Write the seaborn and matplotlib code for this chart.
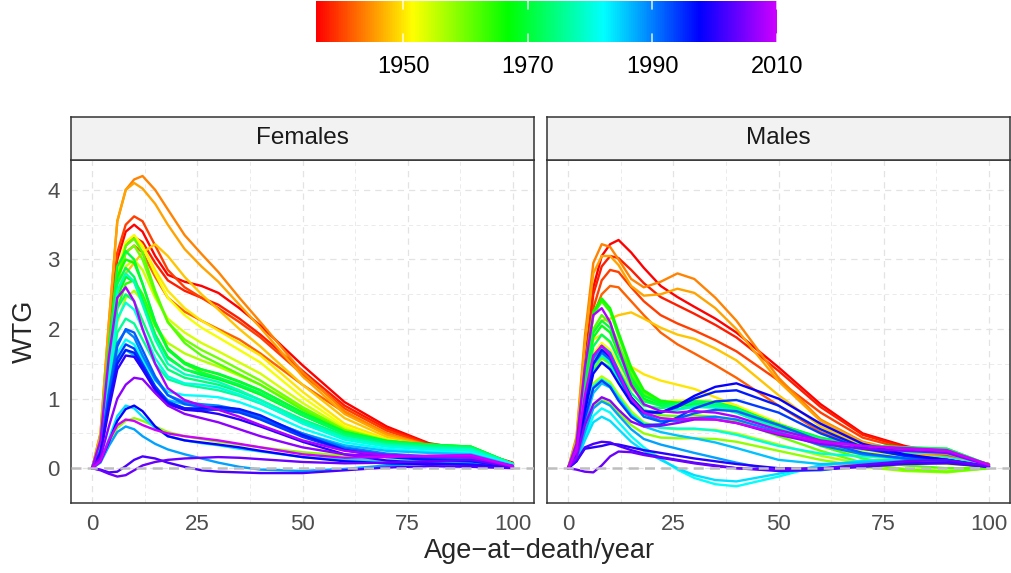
import numpy as np
import pandas as pd
import matplotlib
matplotlib.use("Agg")
import matplotlib.pyplot as plt
import seaborn as sns
from matplotlib.colors import ListedColormap, Normalize, hsv_to_rgb
from matplotlib.cm import ScalarMappable


ages = [0, 2, 4, 6, 8, 10, 12, 15, 18, 22, 26, 30, 35, 40, 50, 60, 70, 80, 90, 100]

# one curve every second year
years = list(range(1936, 2011, 2))

females = [
    [0, 0.40, 1.80, 3.00, 3.40, 3.50, 3.40, 3.05, 2.78, 2.68, 2.62, 2.52, 2.30, 2.05, 1.48, 0.95, 0.60, 0.36, 0.26, 0.08],
    [0, 0.35, 1.60, 2.80, 3.20, 3.32, 3.25, 2.95, 2.70, 2.55, 2.45, 2.35, 2.15, 1.92, 1.40, 0.90, 0.57, 0.35, 0.25, 0.07],
    [0, 0.40, 1.90, 3.10, 3.50, 3.62, 3.55, 3.20, 2.85, 2.60, 2.45, 2.30, 2.10, 1.88, 1.35, 0.86, 0.54, 0.34, 0.25, 0.07],
    [0, 0.35, 1.60, 2.70, 3.10, 3.20, 3.10, 2.75, 2.45, 2.25, 2.12, 2.00, 1.85, 1.65, 1.20, 0.80, 0.50, 0.32, 0.24, 0.06],
    [0, 0.50, 2.10, 3.55, 4.00, 4.15, 4.20, 4.00, 3.72, 3.35, 3.08, 2.82, 2.45, 2.10, 1.38, 0.82, 0.50, 0.33, 0.25, 0.06],
    [0, 0.50, 2.10, 3.55, 4.00, 4.10, 4.02, 3.80, 3.50, 3.15, 2.90, 2.68, 2.35, 2.02, 1.32, 0.78, 0.48, 0.32, 0.24, 0.06],
    [0, 0.35, 1.50, 2.50, 2.80, 2.95, 3.10, 3.22, 3.05, 2.75, 2.50, 2.28, 2.00, 1.75, 1.20, 0.72, 0.45, 0.31, 0.23, 0.05],
    [0, 0.35, 1.60, 2.80, 3.20, 3.30, 3.18, 2.85, 2.55, 2.30, 2.12, 1.98, 1.80, 1.62, 1.10, 0.64, 0.42, 0.30, 0.23, 0.05],
    [0, 0.35, 1.60, 2.85, 3.25, 3.35, 3.20, 2.80, 2.45, 2.20, 2.02, 1.88, 1.70, 1.52, 1.02, 0.60, 0.40, 0.30, 0.24, 0.05],
    [0, 0.30, 1.40, 2.50, 2.90, 3.00, 2.85, 2.45, 2.15, 1.95, 1.80, 1.68, 1.52, 1.36, 0.94, 0.57, 0.38, 0.29, 0.25, 0.05],
    [0, 0.25, 1.20, 2.10, 2.45, 2.55, 2.40, 2.05, 1.80, 1.65, 1.55, 1.46, 1.33, 1.20, 0.86, 0.54, 0.37, 0.29, 0.26, 0.05],
    [0, 0.10, 0.35, 0.58, 0.68, 0.72, 0.68, 0.60, 0.52, 0.46, 0.42, 0.38, 0.34, 0.30, 0.23, 0.18, 0.16, 0.16, 0.15, 0.03],
    [0, 0.35, 1.50, 2.65, 3.10, 3.20, 3.00, 2.50, 2.10, 1.85, 1.70, 1.58, 1.42, 1.26, 0.88, 0.55, 0.40, 0.32, 0.29, 0.06],
    [0, 0.35, 1.55, 2.70, 3.20, 3.30, 3.10, 2.55, 2.10, 1.80, 1.62, 1.50, 1.35, 1.20, 0.84, 0.53, 0.39, 0.33, 0.30, 0.06],
    [0, 0.30, 1.30, 2.30, 2.65, 2.70, 2.50, 2.05, 1.72, 1.50, 1.38, 1.30, 1.18, 1.06, 0.76, 0.50, 0.38, 0.33, 0.30, 0.06],
    [0, 0.35, 1.60, 2.75, 3.00, 2.95, 2.65, 2.10, 1.72, 1.52, 1.42, 1.35, 1.24, 1.12, 0.80, 0.52, 0.39, 0.34, 0.31, 0.06],
    [0, 0.30, 1.40, 2.45, 2.75, 2.68, 2.40, 1.92, 1.60, 1.42, 1.34, 1.28, 1.18, 1.06, 0.76, 0.50, 0.38, 0.34, 0.31, 0.06],
    [0, 0.40, 1.75, 2.90, 3.12, 3.00, 2.65, 2.10, 1.70, 1.50, 1.42, 1.36, 1.25, 1.12, 0.80, 0.52, 0.39, 0.34, 0.31, 0.06],
    [0, 0.35, 1.60, 2.65, 2.88, 2.75, 2.42, 1.92, 1.58, 1.42, 1.36, 1.30, 1.20, 1.08, 0.76, 0.50, 0.38, 0.33, 0.30, 0.06],
    [0, 0.30, 1.40, 2.30, 2.50, 2.40, 2.12, 1.70, 1.42, 1.30, 1.25, 1.20, 1.10, 0.98, 0.70, 0.47, 0.36, 0.32, 0.29, 0.06],
    [0, 0.25, 1.15, 1.95, 2.15, 2.08, 1.85, 1.50, 1.28, 1.20, 1.16, 1.12, 1.04, 0.93, 0.66, 0.44, 0.34, 0.30, 0.28, 0.06],
    [0, 0.35, 1.50, 2.55, 2.80, 2.68, 2.35, 1.85, 1.50, 1.35, 1.30, 1.24, 1.12, 0.98, 0.68, 0.44, 0.33, 0.29, 0.27, 0.06],
    [0, 0.30, 1.30, 2.15, 2.38, 2.28, 2.00, 1.58, 1.32, 1.22, 1.20, 1.16, 1.06, 0.94, 0.64, 0.41, 0.31, 0.27, 0.25, 0.05],
    [0, 0.25, 1.00, 1.65, 1.85, 1.78, 1.56, 1.26, 1.10, 1.05, 1.04, 1.02, 0.95, 0.84, 0.57, 0.37, 0.28, 0.24, 0.22, 0.05],
    [0, 0.10, 0.42, 0.75, 0.90, 0.86, 0.74, 0.58, 0.46, 0.40, 0.36, 0.33, 0.28, 0.24, 0.16, 0.12, 0.11, 0.11, 0.10, 0.02],
    [0, 0.22, 0.95, 1.55, 1.70, 1.62, 1.42, 1.15, 0.98, 0.92, 0.90, 0.88, 0.82, 0.73, 0.50, 0.33, 0.25, 0.22, 0.20, 0.04],
    [0, 0.08, 0.32, 0.52, 0.60, 0.56, 0.46, 0.35, 0.27, 0.20, 0.14, 0.08, 0.02, -0.02, -0.04, -0.01, 0.04, 0.07, 0.08, 0.02],
    [0, 0.25, 1.10, 1.80, 1.98, 1.88, 1.62, 1.28, 1.05, 0.95, 0.92, 0.90, 0.84, 0.74, 0.50, 0.30, 0.21, 0.17, 0.15, 0.03],
    [0, 0.25, 1.05, 1.75, 2.00, 1.95, 1.70, 1.32, 1.05, 0.92, 0.88, 0.87, 0.82, 0.72, 0.47, 0.28, 0.19, 0.15, 0.13, 0.03],
    [0, 0.22, 0.95, 1.58, 1.78, 1.72, 1.50, 1.18, 0.96, 0.86, 0.84, 0.84, 0.80, 0.70, 0.45, 0.26, 0.17, 0.13, 0.11, 0.02],
    [0, 0.22, 0.92, 1.50, 1.70, 1.66, 1.46, 1.14, 0.94, 0.86, 0.86, 0.88, 0.85, 0.76, 0.48, 0.26, 0.16, 0.12, 0.10, 0.02],
    [0, 0.10, 0.38, 0.68, 0.85, 0.90, 0.82, 0.60, 0.46, 0.40, 0.37, 0.34, 0.30, 0.25, 0.16, 0.10, 0.07, 0.06, 0.05, 0.01],
    [0, 0.20, 0.85, 1.42, 1.62, 1.60, 1.42, 1.12, 0.92, 0.84, 0.82, 0.78, 0.70, 0.60, 0.38, 0.20, 0.11, 0.07, 0.05, 0.01],
    [0, -0.02, -0.06, -0.05, 0.03, 0.12, 0.17, 0.14, 0.08, 0.02, -0.03, -0.05, -0.06, -0.07, -0.07, -0.03, 0.01, 0.03, 0.02, 0.0],
    [0, -0.03, -0.08, -0.12, -0.10, -0.03, 0.04, 0.09, 0.12, 0.14, 0.15, 0.16, 0.15, 0.13, 0.09, 0.07, 0.08, 0.10, 0.12, 0.02],
    [0, 0.15, 0.60, 1.00, 1.20, 1.30, 1.28, 1.08, 0.90, 0.78, 0.72, 0.66, 0.56, 0.46, 0.30, 0.20, 0.17, 0.17, 0.17, 0.03],
    [0, 0.40, 1.60, 2.45, 2.60, 2.40, 2.00, 1.50, 1.15, 0.98, 0.90, 0.84, 0.74, 0.62, 0.40, 0.25, 0.19, 0.17, 0.16, 0.03],
    [0, 0.10, 0.40, 0.62, 0.70, 0.68, 0.62, 0.55, 0.50, 0.46, 0.43, 0.40, 0.35, 0.30, 0.20, 0.15, 0.16, 0.18, 0.19, 0.03],
]

males = [
    [0, 0.35, 1.50, 2.60, 3.05, 3.22, 3.28, 3.10, 2.88, 2.62, 2.46, 2.32, 2.15, 1.95, 1.45, 0.92, 0.50, 0.32, 0.20, 0.06],
    [0, 0.35, 1.45, 2.50, 2.90, 3.05, 3.02, 2.85, 2.66, 2.46, 2.34, 2.22, 2.06, 1.88, 1.40, 0.88, 0.48, 0.30, 0.19, 0.06],
    [0, 0.30, 1.35, 2.30, 2.70, 2.85, 2.82, 2.60, 2.40, 2.20, 2.08, 1.98, 1.84, 1.68, 1.26, 0.80, 0.44, 0.28, 0.18, 0.05],
    [0, 0.30, 1.30, 2.20, 2.50, 2.62, 2.60, 2.40, 2.20, 1.95, 1.78, 1.65, 1.48, 1.30, 0.90, 0.52, 0.30, 0.20, 0.14, 0.04],
    [0, 0.45, 1.90, 2.95, 3.22, 3.18, 3.00, 2.72, 2.60, 2.68, 2.80, 2.72, 2.45, 2.12, 1.30, 0.70, 0.38, 0.24, 0.16, 0.05],
    [0, 0.42, 1.80, 2.80, 3.05, 3.05, 2.92, 2.62, 2.48, 2.50, 2.58, 2.52, 2.30, 2.00, 1.25, 0.68, 0.37, 0.23, 0.15, 0.05],
    [0, 0.30, 1.20, 1.95, 2.12, 2.15, 2.20, 2.24, 2.15, 2.02, 1.92, 1.86, 1.72, 1.55, 1.05, 0.60, 0.32, 0.20, 0.14, 0.04],
    [0, 0.30, 1.25, 1.85, 1.92, 1.80, 1.65, 1.46, 1.35, 1.26, 1.20, 1.14, 1.02, 0.90, 0.60, 0.36, 0.22, 0.16, 0.12, 0.03],
    [0, 0.25, 1.05, 1.65, 1.80, 1.70, 1.50, 1.22, 1.04, 0.96, 0.97, 0.98, 0.96, 0.90, 0.65, 0.40, 0.24, 0.16, 0.11, 0.03],
    [0, 0.25, 1.00, 1.58, 1.72, 1.62, 1.42, 1.15, 0.98, 0.90, 0.90, 0.92, 0.90, 0.85, 0.60, 0.35, 0.18, 0.10, 0.06, 0.02],
    [0, 0.20, 0.80, 1.22, 1.32, 1.24, 1.06, 0.82, 0.66, 0.58, 0.56, 0.56, 0.55, 0.50, 0.34, 0.18, 0.06, -0.01, -0.04, 0.0],
    [0, 0.15, 0.55, 0.88, 0.98, 0.93, 0.80, 0.62, 0.50, 0.44, 0.43, 0.43, 0.42, 0.38, 0.25, 0.12, 0.02, -0.04, -0.06, 0.0],
    [0, 0.20, 0.90, 1.42, 1.58, 1.50, 1.30, 1.02, 0.84, 0.76, 0.75, 0.76, 0.74, 0.68, 0.46, 0.25, 0.08, -0.02, -0.05, 0.0],
    [0, 0.30, 1.25, 2.00, 2.20, 2.08, 1.78, 1.35, 1.06, 0.92, 0.90, 0.90, 0.88, 0.80, 0.56, 0.32, 0.14, 0.04, 0.00, 0.0],
    [0, 0.35, 1.40, 2.20, 2.40, 2.25, 1.90, 1.42, 1.10, 0.95, 0.92, 0.93, 0.90, 0.82, 0.58, 0.36, 0.20, 0.12, 0.08, 0.02],
    [0, 0.35, 1.45, 2.25, 2.44, 2.30, 1.95, 1.45, 1.12, 0.97, 0.94, 0.95, 0.92, 0.84, 0.62, 0.42, 0.30, 0.26, 0.24, 0.04],
    [0, 0.30, 1.20, 1.88, 2.05, 1.95, 1.65, 1.25, 1.00, 0.90, 0.90, 0.92, 0.90, 0.84, 0.63, 0.43, 0.31, 0.28, 0.26, 0.05],
    [0, 0.30, 1.25, 1.95, 2.12, 2.02, 1.72, 1.30, 1.04, 0.94, 0.94, 0.96, 0.94, 0.86, 0.63, 0.44, 0.33, 0.30, 0.28, 0.05],
    [0, 0.25, 1.10, 1.75, 1.92, 1.82, 1.56, 1.18, 0.96, 0.90, 0.92, 0.96, 0.95, 0.87, 0.62, 0.43, 0.33, 0.30, 0.28, 0.05],
    [0, 0.25, 1.00, 1.58, 1.72, 1.63, 1.40, 1.08, 0.90, 0.86, 0.90, 0.95, 0.94, 0.86, 0.60, 0.41, 0.31, 0.28, 0.26, 0.05],
    [0, 0.20, 0.88, 1.40, 1.52, 1.45, 1.26, 0.98, 0.82, 0.80, 0.85, 0.90, 0.90, 0.83, 0.58, 0.39, 0.29, 0.26, 0.24, 0.04],
    [0, 0.22, 0.92, 1.48, 1.62, 1.52, 1.30, 1.00, 0.83, 0.80, 0.84, 0.88, 0.87, 0.80, 0.55, 0.37, 0.27, 0.23, 0.21, 0.04],
    [0, 0.18, 0.75, 1.18, 1.28, 1.20, 1.02, 0.78, 0.64, 0.58, 0.57, 0.57, 0.54, 0.48, 0.32, 0.21, 0.17, 0.16, 0.15, 0.03],
    [0, 0.10, 0.45, 0.75, 0.86, 0.80, 0.66, 0.46, 0.30, 0.14, -0.02, -0.14, -0.23, -0.26, -0.12, 0.04, 0.11, 0.13, 0.12, 0.03],
    [0, 0.10, 0.40, 0.66, 0.74, 0.68, 0.56, 0.38, 0.25, 0.12, 0.00, -0.10, -0.17, -0.19, -0.08, 0.04, 0.10, 0.12, 0.12, 0.03],
    [0, 0.15, 0.65, 1.08, 1.22, 1.16, 1.00, 0.76, 0.60, 0.52, 0.47, 0.43, 0.37, 0.29, 0.12, 0.06, 0.08, 0.10, 0.10, 0.02],
    [0, 0.12, 0.52, 0.86, 0.96, 0.90, 0.76, 0.56, 0.42, 0.34, 0.28, 0.22, 0.15, 0.08, -0.04, -0.03, 0.04, 0.09, 0.10, 0.02],
    [0, 0.22, 0.95, 1.58, 1.76, 1.66, 1.40, 1.02, 0.78, 0.68, 0.68, 0.72, 0.74, 0.70, 0.52, 0.33, 0.20, 0.14, 0.10, 0.02],
    [0, 0.22, 0.90, 1.50, 1.66, 1.56, 1.32, 0.96, 0.74, 0.67, 0.71, 0.79, 0.84, 0.82, 0.62, 0.39, 0.22, 0.14, 0.10, 0.02],
    [0, 0.18, 0.72, 1.15, 1.26, 1.17, 0.97, 0.74, 0.62, 0.63, 0.73, 0.86, 0.96, 0.98, 0.80, 0.50, 0.28, 0.18, 0.12, 0.02],
    [0, 0.22, 0.92, 1.50, 1.70, 1.60, 1.36, 1.02, 0.82, 0.80, 0.88, 1.00, 1.10, 1.12, 0.90, 0.56, 0.30, 0.18, 0.12, 0.02],
    [0, 0.20, 0.82, 1.36, 1.52, 1.42, 1.22, 0.94, 0.80, 0.80, 0.90, 1.04, 1.17, 1.22, 1.00, 0.64, 0.35, 0.20, 0.12, 0.02],
    [0, 0.10, 0.28, 0.30, 0.32, 0.35, 0.34, 0.30, 0.26, 0.22, 0.18, 0.14, 0.10, 0.06, 0.00, -0.01, 0.03, 0.07, 0.08, 0.02],
    [0, 0.10, 0.30, 0.35, 0.38, 0.37, 0.32, 0.26, 0.21, 0.16, 0.12, 0.08, 0.04, 0.00, -0.04, -0.02, 0.02, 0.06, 0.07, 0.02],
    [0, -0.02, -0.05, -0.06, 0.04, 0.17, 0.24, 0.23, 0.19, 0.15, 0.11, 0.07, 0.03, 0.00, -0.02, 0.00, 0.05, 0.10, 0.12, 0.03],
    [0, 0.15, 0.62, 0.92, 1.02, 0.97, 0.84, 0.67, 0.60, 0.61, 0.65, 0.70, 0.70, 0.65, 0.48, 0.35, 0.28, 0.25, 0.22, 0.04],
    [0, 0.35, 1.45, 2.20, 2.30, 2.10, 1.72, 1.20, 0.92, 0.82, 0.80, 0.82, 0.80, 0.74, 0.55, 0.40, 0.32, 0.28, 0.25, 0.05],
    [0, 0.25, 1.05, 1.62, 1.76, 1.62, 1.36, 1.00, 0.80, 0.72, 0.70, 0.72, 0.70, 0.65, 0.50, 0.38, 0.32, 0.29, 0.26, 0.05],
]

panel_names = ["Females", "Males"]
x_ticks = [0, 25, 50, 75, 100]
y_ticks = [0, 1, 2, 3, 4]
bar_ticks = [1950, 1970, 1990, 2010]

# long table for seaborn
rows = []
for sex, table in zip(panel_names, [females, males]):
    for year, vals in zip(years, table):
        for age, v in zip(ages, vals):
            rows.append((sex, year, age, v))
df = pd.DataFrame(rows, columns=["sex", "year", "age", "wtg"])

sns.set_style("white")
plt.rcParams["font.family"] = ["Liberation Sans", "DejaVu Sans"]

# red -> purple rainbow, like R's rainbow(end = 0.8)
h = np.linspace(0, 0.8, 256)
rainbow = ListedColormap(hsv_to_rgb(np.column_stack([h, np.ones(256), np.ones(256)])))
year_norm = (1936, 2010)

W, H = 1011, 573
fig = plt.figure(figsize=(W / 100, H / 100), dpi=100)


def box(x0, y0, x1, y1):
    return [x0 / W, 1 - y1 / H, (x1 - x0) / W, (y1 - y0) / H]


panel_boxes = [box(71, 160, 534, 503), box(547, 160, 1010, 503)]
strip_boxes = [box(71, 117, 534, 160), box(547, 117, 1010, 160)]

for i, sex in enumerate(panel_names):
    ax = fig.add_axes(panel_boxes[i])
    sns.lineplot(
        data=df[df["sex"] == sex],
        x="age",
        y="wtg",
        hue="year",
        units="year",
        estimator=None,
        palette=rainbow,
        hue_norm=year_norm,
        legend=False,
        linewidth=1.7,
        ax=ax,
    )
    ax.axhline(0, color="#BEBEBE", linewidth=1.8, linestyle=(0, (4, 2.5)), zorder=5)

    ax.set_xlim(-5, 105)
    ax.set_ylim(-0.5, 4.43)
    ax.set_xticks(x_ticks)
    ax.set_xticks([12.5, 37.5, 62.5, 87.5], minor=True)
    ax.set_yticks(y_ticks)
    ax.set_yticks([0.5, 1.5, 2.5, 3.5], minor=True)
    ax.grid(which="major", color="#E3E3E3", linewidth=0.9, linestyle=(0, (5, 4)))
    ax.grid(which="minor", color="#E8E8E8", linewidth=0.6, linestyle=(0, (5, 4)))
    ax.set_axisbelow(True)

    for s in ax.spines.values():
        s.set_color("#333333")
        s.set_linewidth(1.1)
    ax.tick_params(which="major", length=5, width=1.0, color="#333333",
                   labelsize=16, labelcolor="#4D4D4D", pad=3)
    ax.tick_params(which="minor", length=0)
    if i == 1:
        ax.tick_params(axis="y", left=False, labelleft=False)
    ax.set_xlabel("")
    ax.set_ylabel("")

    sx = fig.add_axes(strip_boxes[i])
    sx.set_facecolor("#F2F2F2")
    sx.set_xticks([])
    sx.set_yticks([])
    for s in sx.spines.values():
        s.set_color("#333333")
        s.set_linewidth(1.1)
    sx.text(0.5, 0.5, sex, ha="center", va="center", fontsize=17.5,
            color="#1A1A1A", transform=sx.transAxes)

fig.text(540 / W, 1 - 551 / H, "Age\u2212at\u2212death/year", ha="center", va="center",
         fontsize=19.5)
fig.text(25 / W, 1 - 331 / H, "WTG", ha="center", va="center", rotation=90,
         fontsize=19.5)

# colour bar on top
cax = fig.add_axes(box(316, 1, 777, 42))
sm = ScalarMappable(norm=Normalize(*year_norm), cmap=rainbow)
cb = fig.colorbar(sm, cax=cax, orientation="horizontal")
cb.outline.set_visible(False)
cb.set_ticks(bar_ticks)
cax.tick_params(length=0, labelsize=17, labelcolor="black", pad=10)
for t in bar_ticks:
    cax.axvline(t, ymin=0, ymax=0.2, color="white", linewidth=1.2, alpha=0.8)
    cax.axvline(t, ymin=0.8, ymax=1, color="white", linewidth=1.2, alpha=0.8)

fig.savefig("out.png", dpi=100)
